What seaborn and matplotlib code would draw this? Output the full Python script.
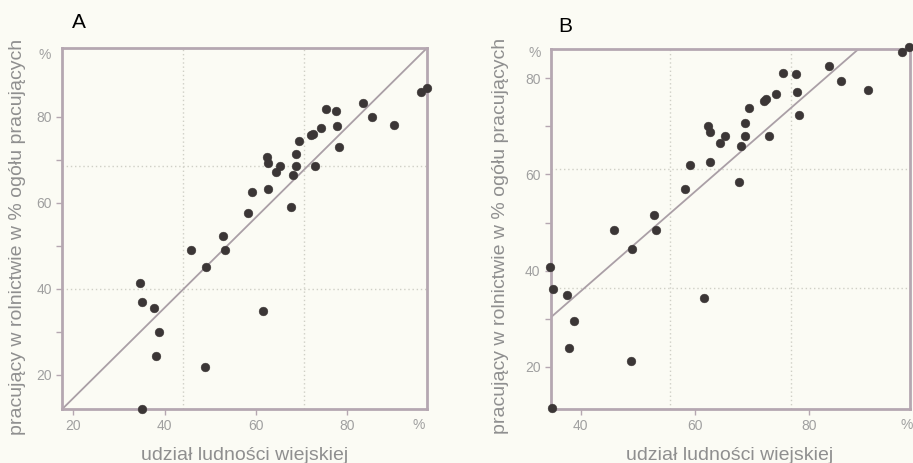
import matplotlib
matplotlib.use("Agg")
import matplotlib.pyplot as plt
import seaborn as sns
import pandas as pd
from matplotlib.ticker import FixedLocator

# ---- data ----
udzial_wiejskiej = [96.2, 97.4, 83.4, 75.4, 77.6, 85.5, 90.2, 77.8, 74.2, 72.4,
                    72.0, 69.5, 78.2, 68.8, 62.3, 62.7, 65.2, 68.8, 72.9, 64.4,
                    68.1, 59.2, 62.7, 67.6, 58.3, 52.8, 45.8, 53.1, 49.0, 34.6,
                    35.1, 37.6, 61.6, 38.8, 38.0, 48.8, 35.0]
pracujacy_A = [85.8, 86.6, 83.1, 81.7, 81.4, 80.0, 78.0, 77.8, 77.3, 76.1,
               75.8, 74.4, 73.0, 71.3, 70.6, 69.3, 68.6, 68.6, 68.6, 67.2,
               66.5, 62.6, 63.1, 59.0, 57.6, 52.3, 49.0, 49.0, 45.2, 41.4,
               36.9, 35.5, 34.9, 30.1, 24.4, 21.9, 12.0]
pracujacy_B = [85.4, 86.6, 82.6, 81.2, 80.9, 79.4, 77.5, 77.2, 76.7, 75.7,
               75.3, 73.8, 72.4, 70.7, 70.1, 68.8, 68.0, 67.9, 67.9, 66.5,
               65.9, 62.0, 62.5, 58.4, 56.9, 51.6, 48.4, 48.4, 44.5, 40.8,
               36.2, 34.9, 34.2, 29.5, 23.8, 21.2, 11.4]

# reference lines (end points)
linia_A_x = [17.55, 97.4]
linia_A_y = [12.1, 95.9]
linia_B_x = [34.8, 88.6]
linia_B_y = [30.3, 86.1]

# axis ranges
zakres_A_x = [17.55, 97.4]
zakres_A_y = [12.1, 95.9]
zakres_B_x = [34.8, 97.6]
zakres_B_y = [11.2, 86.1]

# dotted guide lines
siatka_A_x = [43.96, 70.44]
siatka_A_y = [40.0, 68.5]
siatka_B_x = [55.7, 76.8]
siatka_B_y = [36.3, 61.2]

ticks_A_x = [20, 40, 60, 80]
ticks_B_x = [40, 60, 80]
ticks_y_major = [20, 40, 60, 80]
ticks_y_minor = [30, 50, 70]

panel_labels = ["A", "B"]
xlabel = "udział ludności wiejskiej"
ylabel = "pracujący w rolnictwie w % ogółu pracujących"

# ---- style ----
BG = "#fbfbf4"
SPINE = "#b5a7b1"
LINE = "#aa9fa6"
DOT = "#3b3636"
TICKLBL = "#a0a0a0"
AXLBL = "#8f8f8f"
GRID = "#cfcfc6"

sns.set_theme(style="white")
plt.rcParams['font.family'] = ['Liberation Sans', 'DejaVu Sans']

fig = plt.figure(figsize=(9.13, 4.63), dpi=100, facecolor=BG)
W, H = 913, 463

def ax_rect(l, r, t, b):
    return [l / W, 1 - b / H, (r - l) / W, (b - t) / H]

axA = fig.add_axes(ax_rect(62.3, 426.7, 48.3, 409))
axB = fig.add_axes(ax_rect(551, 910, 49, 409))

dfA = pd.DataFrame({"x": udzial_wiejskiej, "y": pracujacy_A})
dfB = pd.DataFrame({"x": udzial_wiejskiej, "y": pracujacy_B})

configs = [
    (axA, dfA, linia_A_x, linia_A_y, zakres_A_x, zakres_A_y, siatka_A_x, siatka_A_y, ticks_A_x),
    (axB, dfB, linia_B_x, linia_B_y, zakres_B_x, zakres_B_y, siatka_B_x, siatka_B_y, ticks_B_x),
]

for ax, df, lx, ly, zx, zy, gx, gy, tx in configs:
    ax.set_facecolor(BG)
    for g in gx:
        ax.axvline(g, color=GRID, lw=1.0, ls=(0, (1, 2)), zorder=0)
    for g in gy:
        ax.axhline(g, color=GRID, lw=1.0, ls=(0, (1, 2)), zorder=0)
    sns.lineplot(x=lx, y=ly, ax=ax, color=LINE, lw=1.3, zorder=2)
    sns.scatterplot(data=df, x="x", y="y", ax=ax, color=DOT, s=40,
                    edgecolor=DOT, linewidth=0.3, zorder=3, clip_on=False)
    ax.set_xlim(zx)
    ax.set_ylim(zy)
    ax.xaxis.set_major_locator(FixedLocator(tx))
    ax.yaxis.set_major_locator(FixedLocator(ticks_y_major))
    ax.yaxis.set_minor_locator(FixedLocator(ticks_y_minor))
    ax.tick_params(axis="both", which="major", direction="out", length=4.5,
                   width=1.0, color=SPINE, labelcolor=TICKLBL, labelsize=10,
                   pad=3, bottom=True, left=True)
    ax.tick_params(axis="y", which="minor", direction="out", length=4.5,
                   width=1.0, color=SPINE, left=True)
    for sp in ax.spines.values():
        sp.set_visible(True)
        sp.set_color(SPINE)
        sp.set_linewidth(2.0)
    ax.set_xlabel("")
    ax.set_ylabel("")

# "%" unit markers
fig.text(419 / W, 1 - 425 / H, "%", color=TICKLBL, fontsize=10, ha="center", va="center")
fig.text(45 / W, 1 - 55 / H, "%", color=TICKLBL, fontsize=10, ha="center", va="center")
fig.text(907 / W, 1 - 425 / H, "%", color=TICKLBL, fontsize=10, ha="center", va="center")
fig.text(535 / W, 1 - 53 / H, "%", color=TICKLBL, fontsize=10, ha="center", va="center")

# axis titles
fig.text(245 / W, 1 - 455 / H, xlabel, color=AXLBL, fontsize=14, ha="center", va="center")
fig.text(730 / W, 1 - 455 / H, xlabel, color=AXLBL, fontsize=14, ha="center", va="center")
fig.text(18 / W, 1 - 237 / H, ylabel, color=AXLBL, fontsize=14, ha="center", va="center",
         rotation=90)
fig.text(500 / W, 1 - 236 / H, ylabel, color=AXLBL, fontsize=14, ha="center", va="center",
         rotation=90)

# panel letters
fig.text(79 / W, 1 - 22 / H, panel_labels[0], color="black", fontsize=15, ha="center", va="center")
fig.text(565 / W, 1 - 26 / H, panel_labels[1], color="black", fontsize=15, ha="center", va="center")

fig.savefig("out.png", dpi=100, facecolor=BG)
